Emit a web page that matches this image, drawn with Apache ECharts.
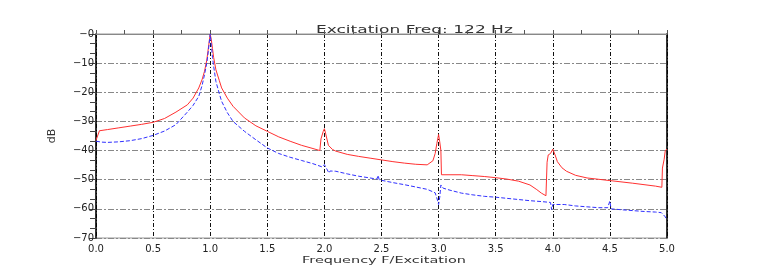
<!DOCTYPE html>
<html>
<head>
<meta charset="utf-8">
<script src="https://cdn.jsdelivr.net/npm/echarts@6/dist/echarts.min.js"></script>
<style>html,body{margin:0;padding:0;background:#fff}#c{width:763px;height:273px}</style>
</head>
<body>
<div id="c"></div>
<script>
var titleText = 'Excitation Freq: 122 Hz';
var xName = 'Frequency F/Excitation';
var yName = 'dB';
var xTicks = [0, 0.5, 1, 1.5, 2, 2.5, 3, 3.5, 4, 4.5, 5];
var yTicks = [0, -10, -20, -30, -40, -50, -60, -70];

var redX = [0, 0.03, 0.1, 0.2, 0.3, 0.4, 0.5, 0.6, 0.7, 0.8, 0.85, 0.9, 0.93, 0.95, 0.97, 0.98, 0.99, 1.0, 1.01, 1.02, 1.03, 1.05, 1.08, 1.1, 1.15, 1.2, 1.3, 1.4, 1.5, 1.6, 1.7, 1.8, 1.9, 1.96, 1.97, 1.99, 2.0, 2.01, 2.035, 2.07, 2.1, 2.2, 2.3, 2.4, 2.5, 2.6, 2.7, 2.8, 2.9, 2.95, 2.97, 2.985, 3.0, 3.01, 3.02, 3.025, 3.1, 3.2, 3.3, 3.4, 3.5, 3.6, 3.7, 3.8, 3.86, 3.9, 3.94, 3.95, 3.96, 3.98, 4.0, 4.02, 4.04, 4.08, 4.12, 4.2, 4.3, 4.5, 4.7, 4.9, 4.955, 4.96, 4.975, 4.985, 5.0];
var redY = [-36.5, -33.2, -32.8, -32.2, -31.6, -31.0, -30.3, -29.0, -26.8, -24.3, -22.0, -18.5, -15.5, -12.8, -9.0, -6.0, -3.0, 0, -2.0, -5.0, -8.0, -12.3, -16.0, -18.5, -22.0, -24.8, -28.8, -31.5, -33.4, -35.3, -36.8, -38.2, -39.3, -40.0, -36.0, -33.4, -32.5, -34.0, -38.2, -39.6, -40.2, -41.3, -42.0, -42.6, -43.2, -43.8, -44.3, -44.7, -44.9, -43.5, -41.0, -37.5, -34.5, -37.0, -40.0, -48.3, -48.3, -48.3, -48.6, -48.9, -49.3, -49.8, -50.5, -51.8, -53.4, -54.6, -55.5, -44.0, -41.5, -41.0, -39.5, -41.5, -43.8, -45.9, -47.1, -48.5, -49.4, -50.3, -51.2, -52.2, -52.6, -46.0, -43.0, -40.0, -39.5];

var blueX = [0, 0.05, 0.1, 0.2, 0.3, 0.4, 0.5, 0.6, 0.7, 0.8, 0.85, 0.9, 0.93, 0.95, 0.97, 0.98, 0.99, 1.0, 1.01, 1.02, 1.03, 1.05, 1.08, 1.1, 1.15, 1.2, 1.3, 1.4, 1.5, 1.6, 1.7, 1.8, 1.9, 1.98, 2.0, 2.01, 2.04, 2.05, 2.1, 2.2, 2.3, 2.4, 2.46, 2.47, 2.48, 2.5, 2.6, 2.7, 2.8, 2.9, 2.97, 2.99, 3.0, 3.01, 3.02, 3.04, 3.1, 3.2, 3.3, 3.4, 3.5, 3.6, 3.7, 3.8, 3.9, 3.98, 3.99, 4.0, 4.01, 4.1, 4.2, 4.3, 4.4, 4.48, 4.5, 4.51, 4.6, 4.7, 4.8, 4.9, 4.95, 4.98, 5.0];
var blueY = [-36.8, -37.1, -37.2, -37.0, -36.6, -35.9, -34.8, -33.3, -31.1, -26.8, -24.5, -21.4, -17.5, -14.0, -10.0, -7.1, -3.5, 0, -4.0, -8.0, -11.0, -16.3, -20.5, -23.1, -27.0, -30.0, -33.4, -36.3, -39.1, -41.0, -42.3, -43.4, -44.5, -45.6, -44.8, -45.5, -47.7, -47.0, -47.1, -48.0, -48.8, -49.4, -49.8, -48.5, -50.0, -50.2, -51.0, -51.7, -52.5, -53.3, -54.5, -57.0, -58.5, -56.0, -51.8, -52.9, -53.6, -54.6, -55.2, -55.7, -56.0, -56.4, -56.8, -57.2, -57.5, -57.8, -60.3, -58.5, -58.3, -58.5, -59.0, -59.3, -59.6, -59.6, -57.3, -60.0, -60.3, -60.6, -60.9, -61.1, -61.3, -62.5, -63.7];

function pairs(xs, ys) { return xs.map(function (x, i) { return [x, ys[i]]; }); }

var chart = echarts.init(document.getElementById('c'), null, {renderer: 'canvas'});
var labelFont = {fontFamily: 'DejaVu Sans', fontSize: 10, color: '#222'};
chart.setOption({
  animation: false,
  backgroundColor: '#fff',
  grid: {left: 96, right: 96, top: 34, bottom: 35, show: true, borderColor: '#999', borderWidth: 1},
  graphic: [
    {type: 'text', x: 316, y: 30, scaleX: 1.62, style: {text: titleText, x: 0, y: 0, font: '10.5px "DejaVu Sans"', fill: '#333', verticalAlign: 'middle'}},
    {type: 'text', x: 302, y: 261, scaleX: 1.7, style: {text: xName, x: 0, y: 0, font: '8.5px "DejaVu Sans"', fill: '#333', verticalAlign: 'middle'}}
  ],
  xAxis: [{
    type: 'value', min: xTicks[0], max: xTicks[xTicks.length - 1], interval: 0.5,
    axisLine: {show: true, lineStyle: {color: '#888', width: 1}},
    axisTick: {show: true, inside: true, length: 4, lineStyle: {color: '#555'}},
    minorTick: {show: true, splitNumber: 2, length: 4, lineStyle: {color: '#555'}},
    axisLabel: Object.assign({margin: 6, formatter: function (v) { return v.toFixed(1); }}, labelFont),
    splitLine: {show: true, lineStyle: {color: '#111', width: 1, type: [4, 2, 1, 2]}}
  }],
  yAxis: [{
    type: 'value', min: yTicks[yTicks.length - 1], max: yTicks[0], interval: 10,
    name: yName, nameLocation: 'middle', nameGap: 38, nameRotate: 90,
    nameTextStyle: {fontFamily: 'DejaVu Sans', fontSize: 11, color: '#333'},
    axisLine: {show: true, lineStyle: {color: '#000', width: 1.5}},
    axisTick: {show: true, inside: false, length: 7, lineStyle: {color: '#444'}},
    minorTick: {show: true, splitNumber: 3, length: 6, lineStyle: {color: '#444'}},
    axisLabel: Object.assign({margin: 2, formatter: function (v) { return '\u2212' + Math.abs(v); }}, labelFont),
    splitLine: {show: true, lineStyle: {color: '#888', width: 1, type: [6, 2, 2, 2]}}
  }, {
    type: 'value', position: 'right', min: yTicks[yTicks.length - 1], max: yTicks[0], interval: 10,
    axisLine: {show: true, lineStyle: {color: '#000', width: 1.5}},
    axisTick: {show: false}, axisLabel: {show: false}, splitLine: {show: false}
  }],
  series: [{
    type: 'line', data: pairs(redX, redY), showSymbol: false, symbol: 'none',
    lineStyle: {color: '#ff3030', width: 1}, z: 3
  }, {
    type: 'line', data: pairs(blueX, blueY), showSymbol: false, symbol: 'none',
    lineStyle: {color: '#3030ff', width: 1, type: [4, 2]}, z: 4
  }]
});
</script>
</body>
</html>
